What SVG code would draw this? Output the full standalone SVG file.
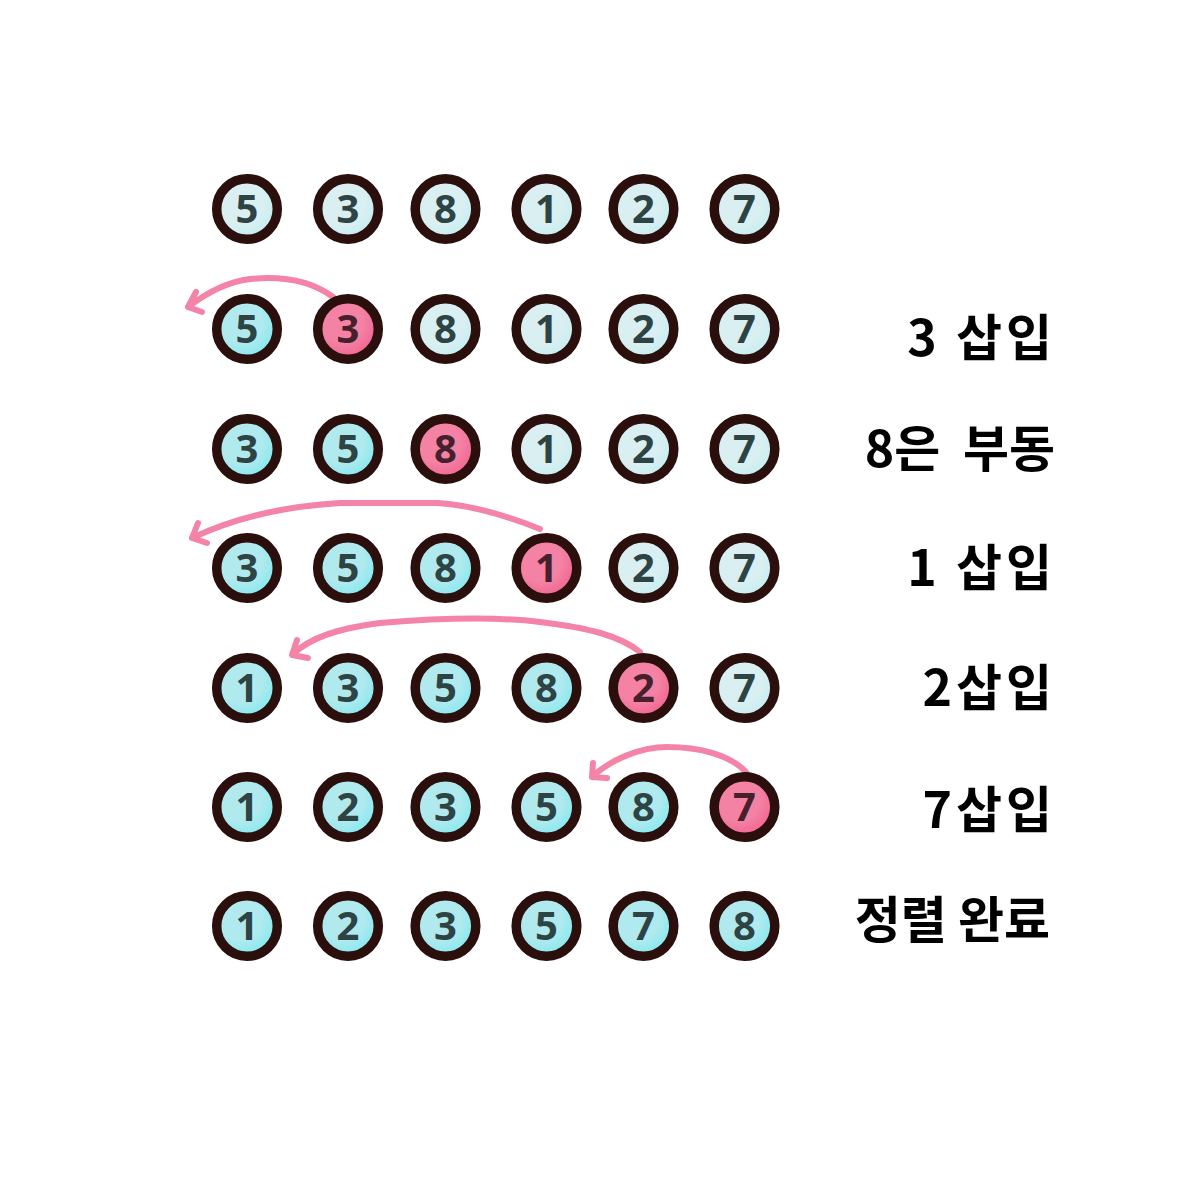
<svg xmlns="http://www.w3.org/2000/svg" width="1200" height="1200" viewBox="0 0 1200 1200">
<defs>
<radialGradient id="gu" cx="0.4" cy="0.38" r="0.7">
<stop offset="0.55" stop-color="#d9eff1"/><stop offset="1" stop-color="#bdeef2"/>
</radialGradient>
<radialGradient id="gs" cx="0.4" cy="0.38" r="0.7">
<stop offset="0.5" stop-color="#b0eaee"/><stop offset="1" stop-color="#78e9f0"/>
</radialGradient>
<radialGradient id="gp" cx="0.4" cy="0.38" r="0.7">
<stop offset="0.5" stop-color="#f382a5"/><stop offset="1" stop-color="#f25c8a"/>
</radialGradient>
</defs>
<style>
.c{stroke:#2a0f0c;stroke-width:9.5}
.u{fill:url(#gu)}
.s{fill:url(#gs)}
.p{fill:url(#gp)}
.d{font-family:"Noto Sans","DejaVu Sans",sans-serif;font-weight:bold;font-size:40px;fill:#2e4343;text-anchor:middle}
.dp{fill:#46202c}
.a{fill:none;stroke:#f384a8;stroke-width:6;stroke-linecap:round;stroke-linejoin:round}
.l{font-family:"Noto Sans CJK KR","Noto Sans",sans-serif;font-weight:bold;font-size:50px;fill:#000;text-anchor:end;white-space:pre}
.w{letter-spacing:4px}
</style>
<rect width="1200" height="1200" fill="#fff"/>
<g id="connectors">
<path class="a" d="M333,297 C310,280 280,276 250,279 C225,282 205,294 188,307 M188,307 L196,292 M188,307 L202,312"/>
<path class="a" d="M540,529 C505,515 470,505 438,503 L340,503 C290,506 240,515 192,538 M192,538 L198,523 M192,538 L207,543"/>
<path class="a" d="M640,652 C620,636 590,628 540,622 C500,617 440,618 380,623 C340,628 310,637 292,655 M292,655 L297,640 M292,655 L308,658"/>
<path class="a" d="M746,772 C730,755 700,747 667,747 C640,747 610,760 592,777 M592,777 L593,763 M592,777 L607,778"/>
</g>
<g id="row1">
<g id="r1c1"><circle class="c u" cx="247" cy="209" r="30.3"/><text class="d" x="247" y="223">5</text></g>
<g id="r1c2"><circle class="c u" cx="348" cy="209" r="30.3"/><text class="d" x="348" y="223">3</text></g>
<g id="r1c3"><circle class="c u" cx="445.5" cy="209" r="30.3"/><text class="d" x="445.5" y="223">8</text></g>
<g id="r1c4"><circle class="c u" cx="546.5" cy="209" r="30.3"/><text class="d" x="546.5" y="223">1</text></g>
<g id="r1c5"><circle class="c u" cx="643.5" cy="209" r="30.3"/><text class="d" x="643.5" y="223">2</text></g>
<g id="r1c6"><circle class="c u" cx="744.5" cy="209" r="30.3"/><text class="d" x="744.5" y="223">7</text></g>
</g>
<g id="row2">
<g id="r2c1"><circle class="c s" cx="247" cy="329" r="30.3"/><text class="d" x="247" y="343">5</text></g>
<g id="r2c2"><circle class="c p" cx="348" cy="329" r="30.3"/><text class="d dp" x="348" y="343">3</text></g>
<g id="r2c3"><circle class="c u" cx="445.5" cy="329" r="30.3"/><text class="d" x="445.5" y="343">8</text></g>
<g id="r2c4"><circle class="c u" cx="546.5" cy="329" r="30.3"/><text class="d" x="546.5" y="343">1</text></g>
<g id="r2c5"><circle class="c u" cx="643.5" cy="329" r="30.3"/><text class="d" x="643.5" y="343">2</text></g>
<g id="r2c6"><circle class="c u" cx="744.5" cy="329" r="30.3"/><text class="d" x="744.5" y="343">7</text></g>
</g>
<g id="row3">
<g id="r3c1"><circle class="c s" cx="247" cy="449" r="30.3"/><text class="d" x="247" y="463">3</text></g>
<g id="r3c2"><circle class="c s" cx="348" cy="449" r="30.3"/><text class="d" x="348" y="463">5</text></g>
<g id="r3c3"><circle class="c p" cx="445.5" cy="449" r="30.3"/><text class="d dp" x="445.5" y="463">8</text></g>
<g id="r3c4"><circle class="c u" cx="546.5" cy="449" r="30.3"/><text class="d" x="546.5" y="463">1</text></g>
<g id="r3c5"><circle class="c u" cx="643.5" cy="449" r="30.3"/><text class="d" x="643.5" y="463">2</text></g>
<g id="r3c6"><circle class="c u" cx="744.5" cy="449" r="30.3"/><text class="d" x="744.5" y="463">7</text></g>
</g>
<g id="row4">
<g id="r4c1"><circle class="c s" cx="247" cy="568" r="30.3"/><text class="d" x="247" y="582">3</text></g>
<g id="r4c2"><circle class="c s" cx="348" cy="568" r="30.3"/><text class="d" x="348" y="582">5</text></g>
<g id="r4c3"><circle class="c s" cx="445.5" cy="568" r="30.3"/><text class="d" x="445.5" y="582">8</text></g>
<g id="r4c4"><circle class="c p" cx="546.5" cy="568" r="30.3"/><text class="d dp" x="546.5" y="582">1</text></g>
<g id="r4c5"><circle class="c u" cx="643.5" cy="568" r="30.3"/><text class="d" x="643.5" y="582">2</text></g>
<g id="r4c6"><circle class="c u" cx="744.5" cy="568" r="30.3"/><text class="d" x="744.5" y="582">7</text></g>
</g>
<g id="row5">
<g id="r5c1"><circle class="c s" cx="247" cy="688" r="30.3"/><text class="d" x="247" y="702">1</text></g>
<g id="r5c2"><circle class="c s" cx="348" cy="688" r="30.3"/><text class="d" x="348" y="702">3</text></g>
<g id="r5c3"><circle class="c s" cx="445.5" cy="688" r="30.3"/><text class="d" x="445.5" y="702">5</text></g>
<g id="r5c4"><circle class="c s" cx="546.5" cy="688" r="30.3"/><text class="d" x="546.5" y="702">8</text></g>
<g id="r5c5"><circle class="c p" cx="643.5" cy="688" r="30.3"/><text class="d dp" x="643.5" y="702">2</text></g>
<g id="r5c6"><circle class="c u" cx="744.5" cy="688" r="30.3"/><text class="d" x="744.5" y="702">7</text></g>
</g>
<g id="row6">
<g id="r6c1"><circle class="c s" cx="247" cy="807" r="30.3"/><text class="d" x="247" y="821">1</text></g>
<g id="r6c2"><circle class="c s" cx="348" cy="807" r="30.3"/><text class="d" x="348" y="821">2</text></g>
<g id="r6c3"><circle class="c s" cx="445.5" cy="807" r="30.3"/><text class="d" x="445.5" y="821">3</text></g>
<g id="r6c4"><circle class="c s" cx="546.5" cy="807" r="30.3"/><text class="d" x="546.5" y="821">5</text></g>
<g id="r6c5"><circle class="c s" cx="643.5" cy="807" r="30.3"/><text class="d" x="643.5" y="821">8</text></g>
<g id="r6c6"><circle class="c p" cx="744.5" cy="807" r="30.3"/><text class="d dp" x="744.5" y="821">7</text></g>
</g>
<g id="row7">
<g id="r7c1"><circle class="c s" cx="247" cy="926" r="30.3"/><text class="d" x="247" y="940">1</text></g>
<g id="r7c2"><circle class="c s" cx="348" cy="926" r="30.3"/><text class="d" x="348" y="940">2</text></g>
<g id="r7c3"><circle class="c s" cx="445.5" cy="926" r="30.3"/><text class="d" x="445.5" y="940">3</text></g>
<g id="r7c4"><circle class="c s" cx="546.5" cy="926" r="30.3"/><text class="d" x="546.5" y="940">5</text></g>
<g id="r7c5"><circle class="c s" cx="643.5" cy="926" r="30.3"/><text class="d" x="643.5" y="940">7</text></g>
<g id="r7c6"><circle class="c s" cx="744.5" cy="926" r="30.3"/><text class="d" x="744.5" y="940">8</text></g>
</g>
<g id="labels">
<text class="l w" x="1056" y="356">3 삽입</text>
<text class="l" x="1055" y="467">8은  부동</text>
<text class="l w" x="1056" y="586">1 삽입</text>
<text class="l w" x="1056" y="706">2삽입</text>
<text class="l w" x="1056" y="828">7삽입</text>
<text class="l" x="1050" y="938">정렬 완료</text>
</g>
</svg>
